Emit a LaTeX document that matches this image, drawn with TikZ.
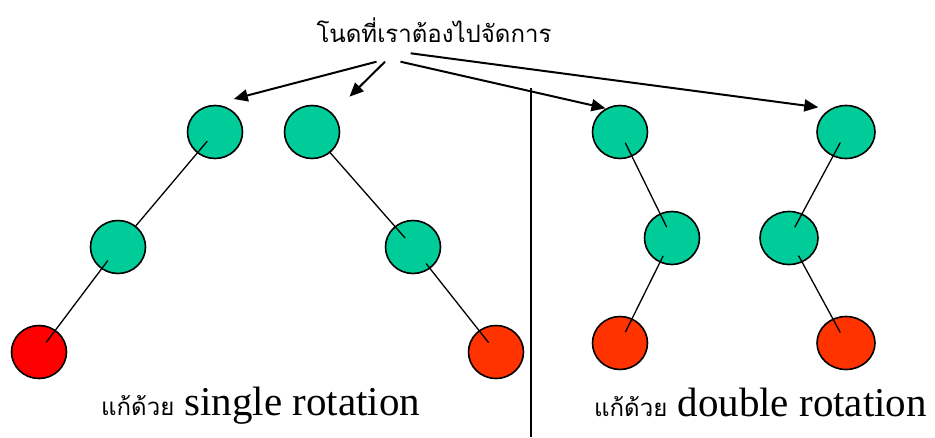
\documentclass[tikz,border=0pt]{standalone}
\usepackage{fontspec}
\setmainfont{Liberation Serif}
\newfontfamily\thaifont[Script=Thai]{Loma}
\usepackage{xcolor}
\usetikzlibrary{shapes,arrows,positioning,calc,arrows.meta}
\definecolor{avlgreen}{RGB}{0,204,153}
\definecolor{badred}{RGB}{255,0,0}
\definecolor{badorange}{RGB}{255,51,0}
\newcommand{\thaitext}[2][24]{{\thaifont\fontsize{#1}{28}\selectfont #2}}

\begin{document}
\begin{tikzpicture}[x=1pt,y=-1pt,
    avl/.style={ellipse, draw, line width=1.6pt, fill=avlgreen, inner sep=0pt,
        minimum width=55pt, minimum height=53pt},
    link/.style={line width=1.3pt, shorten <=12pt, shorten >=12pt},
    pointer/.style={line width=2pt, -{Triangle[length=14pt,width=12pt]}}]
    \useasboundingbox (0,0) rectangle (935,437);

    % Title and its pointers
    \node[anchor=base] (title) at (434,42) {\thaitext{โนดที่เราต้องไปจัดการ}};
    \coordinate (p1) at (376.5,61.7);
    \coordinate (p2) at (385,61.7);
    \coordinate (p3) at (400.5,61.7);
    \coordinate (p4) at (410.7,53.3);
    \coordinate (t1) at (233.8,99);
    \coordinate (t2) at (349.5,96.7);
    \coordinate (t3) at (605.5,108.3);
    \coordinate (t4) at (818.3,107.3);
    \draw[pointer] (p1) -- (t1);
    \draw[pointer] (p2) -- (t2);
    \draw[pointer] (p3) -- (t3);
    \draw[pointer] (p4) -- (t4);

    % Divider
    \coordinate (top) at (531,88);
    \coordinate (bottom) at (531,437);
    \draw[line width=1.3pt] (top) -- (bottom);

    % Single rotation: left-left
    \node[avl] (a1) at (215,132) {};
    \node[avl] (a2) at (118,247) {};
    \node[avl, fill=badred] (a3) at (39,352) {};
    \draw[link, shorten >=27pt] (a1.center) -- (a2.center);
    \draw[link, shorten <=17pt] (a2.center) -- (a3.center);

    % Single rotation: right-right
    \node[avl] (b1) at (312,132) {};
    \node[avl] (b2) at (413,247) {};
    \node[avl, fill=badorange] (b3) at (496,352) {};
    \draw[link, shorten <=26pt] (b1.center) -- (b2.center);
    \draw[link, shorten <=21pt] (b2.center) -- (b3.center);

    % Double rotation: right-left
    \node[avl] (c1) at (620,132) {};
    \node[avl] (c2) at (672,238) {};
    \node[avl, fill=badorange] (c3) at (620,343) {};
    \draw[link] (c1.center) -- (c2.center);
    \draw[link, shorten <=20pt] (c2.center) -- (c3.center);

    % Double rotation: left-right
    \node[avl, minimum width=58pt] (d1) at (846,132) {};
    \node[avl, minimum width=58pt] (d2) at (789,238) {};
    \node[avl, minimum width=58pt, fill=badorange] (d3) at (846,343) {};
    \draw[link] (d1.center) -- (d2.center);
    \draw[link, shorten <=20pt] (d2.center) -- (d3.center);

    % Labels
    \node[anchor=base west, inner sep=0pt] (single) at (101,415)
        {\thaitext{แก้ด้วย}\fontsize{41}{48}\selectfont\ single rotation};
    \node[anchor=base west, inner sep=0pt] (double) at (594,416)
        {\thaitext{แก้ด้วย}\fontsize{41}{48}\selectfont\ double rotation};
\end{tikzpicture}
\end{document}
